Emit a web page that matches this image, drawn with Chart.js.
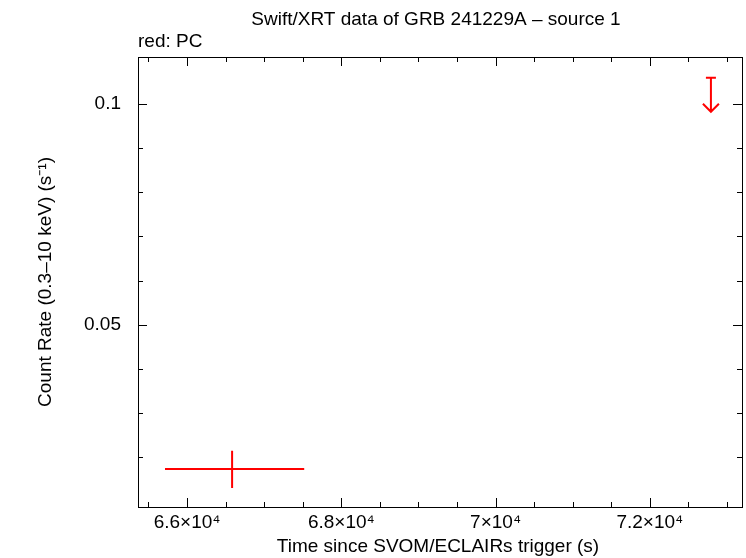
<!DOCTYPE html>
<html><head><meta charset="utf-8">
<script src="https://cdn.jsdelivr.net/npm/chart.js@4"></script>
<style>body{margin:0;background:#fff}</style></head>
<body><canvas id="c" width="746" height="558"></canvas>
<script>
const pcTime=[66584], pcTimeLo=[65714], pcTimeHi=[67519];
const pcRate=[0.0174], pcRateLo=[0.0131], pcRateHi=[0.0215];
const ulTime=[72792], ulTimeLo=[72792], ulTimeHi=[72792], ulRate=[0.1059];
const xMajor=[66000,68000,70000,72000], xLabels=['6.6×10⁴','6.8×10⁴','7×10⁴','7.2×10⁴'];
const yMajor=[0.05,0.1], yLabels=['0.05','0.1'];
const yMinor=[0.02,0.03,0.04,0.06,0.07,0.08,0.09];
const xMinor=[65500,66500,67000,67500,68500,69000,69500,70500,71000,71500,72500,73000];
const F='"Liberation Sans", Arial, sans-serif';
const plug={id:'p',afterDraw(c){
 const g=c.ctx,a=c.chartArea,x=c.scales.x,y=c.scales.y;
 g.save();g.strokeStyle='#000';g.lineWidth=1;
 g.strokeRect(a.left+.5,a.top+.5,a.right-a.left,a.bottom-a.top);
 g.beginPath();
 xMajor.forEach(v=>{const p=Math.round(x.getPixelForValue(v))+.5;g.moveTo(p,a.bottom);g.lineTo(p,a.bottom-9);g.moveTo(p,a.top);g.lineTo(p,a.top+9);});
 xMinor.forEach(v=>{const p=Math.round(x.getPixelForValue(v))+.5;g.moveTo(p,a.bottom);g.lineTo(p,a.bottom-5);g.moveTo(p,a.top);g.lineTo(p,a.top+5);});
 yMajor.forEach(v=>{const p=Math.round(y.getPixelForValue(v))+.5;g.moveTo(a.left,p);g.lineTo(a.left+9,p);g.moveTo(a.right,p);g.lineTo(a.right-9,p);});
 yMinor.forEach(v=>{const p=Math.round(y.getPixelForValue(v))+.5;g.moveTo(a.left,p);g.lineTo(a.left+5,p);g.moveTo(a.right,p);g.lineTo(a.right-5,p);});
 g.stroke();
 g.fillStyle='#000';g.font='19px '+F;g.textBaseline='middle';
 g.textAlign='right';yMajor.forEach((v,i)=>g.fillText(yLabels[i],a.left-17,y.getPixelForValue(v)));
 g.textAlign='center';xMajor.forEach((v,i)=>g.fillText(xLabels[i],x.getPixelForValue(v),a.bottom+16));
 g.fillText('Swift/XRT data of GRB 241229A – source 1',436,20);
 g.fillText('Time since SVOM/ECLAIRs trigger (s)',438,547);
 g.textAlign='left';g.fillText('red: PC',138,42);
 g.save();g.translate(46,282);g.rotate(-Math.PI/2);g.textAlign='center';g.fillText('Count Rate (0.3–10 keV) (s⁻¹)',0,0);g.restore();
 g.strokeStyle='#f00';g.lineWidth=2;g.beginPath();
 pcTime.forEach((t,i)=>{const px=x.getPixelForValue(t),py=y.getPixelForValue(pcRate[i]);
  g.moveTo(x.getPixelForValue(pcTimeLo[i]),py);g.lineTo(x.getPixelForValue(pcTimeHi[i]),py);
  g.moveTo(px,y.getPixelForValue(pcRateLo[i]));g.lineTo(px,y.getPixelForValue(pcRateHi[i]));});
 ulTime.forEach((t,i)=>{const px=x.getPixelForValue(t),py=y.getPixelForValue(ulRate[i]);
  g.moveTo(px-5,py);g.lineTo(px+5,py);g.moveTo(px,py);g.lineTo(px,py+34);
  g.moveTo(px-8,py+26);g.lineTo(px,py+34);g.lineTo(px+8,py+26);});
 g.stroke();g.restore();}};
new Chart(document.getElementById('c'),{type:'scatter',
 data:{datasets:[{data:pcTime.map((t,i)=>({x:t,y:pcRate[i]})),pointRadius:0},{data:ulTime.map((t,i)=>({x:t,y:ulRate[i]})),pointRadius:0}]},
 options:{responsive:false,animation:false,layout:{padding:{top:57,right:4}},
  plugins:{legend:{display:false},tooltip:{enabled:false}},
  scales:{x:{type:'linear',min:65364,max:73195,grid:{display:false},border:{display:false},ticks:{display:false},afterFit(s){s.height=51;}},
   y:{type:'linear',min:0.0088,max:0.1106,grid:{display:false},border:{display:false},ticks:{display:false},afterFit(s){s.width=138;}}}},
 plugins:[plug]});
</script></body></html>
